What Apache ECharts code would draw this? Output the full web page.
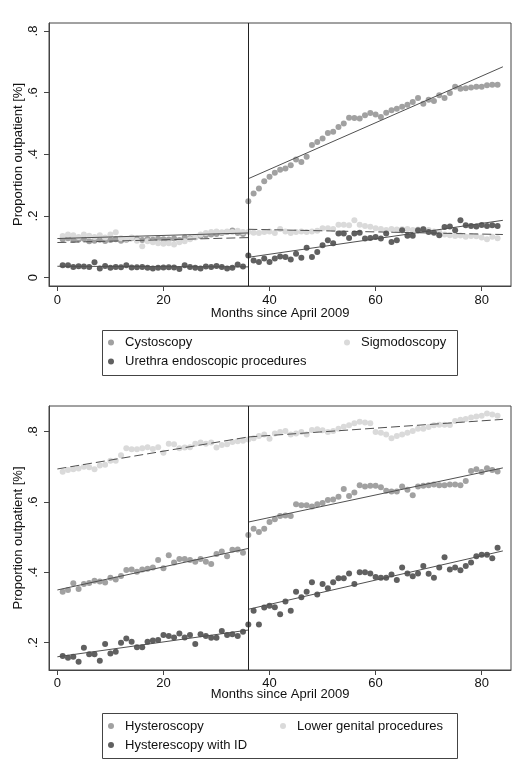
<!DOCTYPE html>
<html><head><meta charset="utf-8">
<script src="https://cdn.jsdelivr.net/npm/echarts@6/dist/echarts.min.js"></script>
<style>html,body{margin:0;padding:0;background:#fff}#c{width:514px;height:773px}</style>
</head><body><div id="c"></div><script>
const months = [1,2,3,4,5,6,7,8,9,10,11,12,13,14,15,16,17,18,19,20,21,22,23,24,25,26,27,28,29,30,31,32,33,34,35,36,37,38,39,40,41,42,43,44,45,46,47,48,49,50,51,52,53,54,55,56,57,58,59,60,61,62,63,64,65,66,67,68,69,70,71,72,73,74,75,76,77,78,79,80,81,82,83];
const xTicks = [0,20,40,60,80];
const yTicksTop = [0,0.2,0.4,0.6,0.8];
const yTicksBottom = [0.2,0.4,0.6,0.8];
const breakMonth = 36;
const xTitle = 'Months since April 2009';
const yTitle = 'Proportion outpatient [%]';

// Panel 1
const cystoscopy = [0.125,0.128,0.122,0.124,0.126,0.118,0.12,0.123,0.119,0.122,0.125,0.12,0.123,0.128,0.126,0.122,0.125,0.123,0.126,0.125,0.124,0.127,0.122,0.13,0.128,0.132,0.135,0.138,0.14,0.142,0.145,0.148,0.153,0.145,0.142,
0.248,0.273,0.289,0.313,0.327,0.340,0.350,0.354,0.365,0.383,0.375,0.392,0.430,0.440,0.451,0.469,0.473,0.489,0.500,0.519,0.518,0.516,0.527,0.534,0.529,0.521,0.535,0.543,0.548,0.554,0.561,0.570,0.583,0.564,0.577,0.573,0.592,0.583,0.599,0.619,0.613,0.614,0.617,0.619,0.619,0.624,0.626,0.626];
const sigmodoscopy = [0.135,0.14,0.138,0.132,0.14,0.136,0.132,0.138,0.13,0.14,0.147,0.128,0.125,0.13,0.12,0.102,0.118,0.115,0.112,0.11,0.112,0.108,0.115,0.118,0.125,0.13,0.14,0.145,0.148,0.15,0.147,0.15,0.148,0.152,0.148,
0.148,0.146,0.145,0.148,0.15,0.145,0.158,0.15,0.145,0.148,0.15,0.148,0.15,0.152,0.16,0.16,0.158,0.172,0.172,0.17,0.186,0.172,0.168,0.165,0.16,0.158,0.155,0.158,0.156,0.157,0.158,0.155,0.156,0.158,0.155,0.15,0.148,0.14,0.138,0.135,0.137,0.133,0.135,0.134,0.13,0.125,0.133,0.128];
const urethra = [0.04,0.04,0.035,0.037,0.036,0.035,0.05,0.03,0.038,0.032,0.035,0.034,0.04,0.033,0.034,0.035,0.032,0.03,0.032,0.033,0.034,0.033,0.028,0.04,0.035,0.032,0.03,0.036,0.035,0.038,0.035,0.03,0.032,0.043,0.036,
0.072,0.056,0.051,0.062,0.051,0.062,0.069,0.067,0.059,0.078,0.065,0.097,0.067,0.083,0.105,0.121,0.112,0.143,0.143,0.129,0.143,0.146,0.127,0.129,0.132,0.127,0.143,0.116,0.121,0.154,0.136,0.136,0.154,0.157,0.148,0.146,0.138,0.164,0.166,0.154,0.186,0.170,0.168,0.166,0.171,0.168,0.170,0.168];

// Panel 2
const hysteroscopy = [0.345,0.350,0.369,0.353,0.367,0.370,0.376,0.374,0.371,0.385,0.380,0.390,0.407,0.408,0.402,0.408,0.410,0.414,0.435,0.412,0.449,0.428,0.438,0.438,0.435,0.430,0.438,0.430,0.424,0.452,0.459,0.446,0.464,0.465,0.456,
0.506,0.524,0.515,0.524,0.543,0.551,0.560,0.562,0.560,0.594,0.591,0.591,0.587,0.594,0.597,0.606,0.607,0.615,0.637,0.617,0.627,0.648,0.644,0.646,0.646,0.642,0.632,0.630,0.630,0.644,0.635,0.619,0.644,0.646,0.648,0.650,0.648,0.648,0.650,0.650,0.648,0.660,0.688,0.693,0.685,0.696,0.691,0.687];
const lowerGenital = [0.686,0.691,0.693,0.695,0.70,0.699,0.693,0.704,0.706,0.717,0.717,0.733,0.753,0.750,0.750,0.753,0.756,0.751,0.756,0.740,0.766,0.764,0.753,0.755,0.756,0.766,0.769,0.766,0.769,0.755,0.762,0.764,0.771,0.773,0.774,
0.778,0.781,0.788,0.792,0.780,0.795,0.799,0.802,0.792,0.795,0.799,0.792,0.805,0.807,0.804,0.799,0.802,0.808,0.814,0.818,0.824,0.828,0.826,0.824,0.799,0.797,0.792,0.781,0.788,0.792,0.797,0.802,0.808,0.808,0.813,0.818,0.820,0.820,0.819,0.830,0.834,0.836,0.840,0.843,0.845,0.852,0.849,0.845];
const hysterescopyID = [0.162,0.157,0.16,0.146,0.186,0.167,0.167,0.149,0.196,0.169,0.174,0.2,0.212,0.203,0.187,0.187,0.203,0.206,0.208,0.222,0.219,0.215,0.226,0.215,0.222,0.196,0.224,0.219,0.214,0.214,0.233,0.222,0.224,0.219,0.231,
0.252,0.291,0.252,0.30,0.305,0.301,0.281,0.317,0.291,0.345,0.329,0.345,0.372,0.337,0.367,0.355,0.372,0.383,0.383,0.397,0.367,0.40,0.40,0.397,0.387,0.385,0.385,0.394,0.378,0.414,0.397,0.389,0.397,0.418,0.396,0.385,0.414,0.443,0.408,0.414,0.406,0.418,0.428,0.446,0.45,0.45,0.44,0.47];

// Fitted segments (x endpoints, y endpoints)
const fitXPre = [0, 36];
const fitXPost = [36, 84];
const cystoFitPre = [0.127, 0.145], cystoFitPost = [0.321, 0.684];
const sigmoFitPre = [0.114, 0.130], sigmoFitPost = [0.157, 0.140];
const urethraFitPre = [0.037, 0.035], urethraFitPost = [0.066, 0.186];
const hysteroFitPre = [0.350, 0.468], hysteroFitPost = [0.543, 0.697];
const lowerFitPre = [0.694, 0.785], lowerFitPost = [0.785, 0.835];
const idFitPre = [0.160, 0.236], idFitPost = [0.295, 0.461];

const C_MID = '#a1a1a1', C_LIGHT = '#dadada', C_DARK = '#606060', C_FIT = '#505050';
const FONT = 'Liberation Sans, Arial, Helvetica, sans-serif';

function pts(vals){ return months.map((m,i)=>[m, vals[i]]); }
function seg(xs, ys){ return xs.map((x,i)=>[x, ys[i]]); }
function scatter(name, vals, color, g){
  return {type:'scatter', name, xAxisIndex:g, yAxisIndex:g, data:pts(vals), symbol:'circle', symbolSize:6,
    itemStyle:{color, opacity:1}, z:2, silent:true};
}
function fit(name, xs, ys, dashed, g){
  return {type:'line', name, xAxisIndex:g, yAxisIndex:g, data:seg(xs, ys), showSymbol:false, symbol:'none',
    lineStyle:{color:C_FIT, width:1, type: dashed ? [9,4] : 'solid'}, z:3, silent:true};
}
function vline(g){
  return {type:'line', name:'break'+g, xAxisIndex:g, yAxisIndex:g, data:[], z:4,
    markLine:{silent:true, symbol:['none','none'], label:{show:false}, animation:false,
      lineStyle:{color:'#222', width:1, type:'solid'}, data:[{xAxis:breakMonth}]}};
}
function fmtY(v){ return v === 0 ? '0' : String(v).replace(/^0/, ''); }
function xAxis(g, margin, gap){
  return {type:'value', gridIndex:g, min:-1.58, max:85.53, name:xTitle, nameLocation:'middle', nameGap:gap,
    nameMoveOverlap:false,
    nameTextStyle:{fontFamily:FONT, fontSize:13, color:'#111'},
    axisLine:{show:true, onZero:false, lineStyle:{color:'#444', width:1}},
    axisTick:{show:true, length:5, lineStyle:{color:'#444'}, customValues:xTicks},
    axisLabel:{fontFamily:FONT, fontSize:13, color:'#111', margin, customValues:xTicks},
    splitLine:{show:false}};
}
function yAxis(g, min, max, ticks){
  return {type:'value', gridIndex:g, min, max, name:yTitle, nameLocation:'middle', nameGap:24, nameRotate:90,
    nameMoveOverlap:false,
    nameTextStyle:{fontFamily:FONT, fontSize:13, color:'#111'},
    axisLine:{show:true, onZero:false, lineStyle:{color:'#444', width:1}},
    axisTick:{show:true, length:5, lineStyle:{color:'#444'}, customValues:ticks},
    axisLabel:{fontFamily:FONT, fontSize:13, color:'#111', margin:9, rotate:90, formatter:fmtY, customValues:ticks},
    splitLine:{show:false}};
}
function legend(left, top, names){
  return {orient:'vertical', left, top, padding:0, itemGap:6, itemWidth:18, itemHeight:6, icon:'circle',
    selectedMode:false, data:names,
    textStyle:{fontFamily:FONT, fontSize:13, color:'#111', lineHeight:13}};
}

const chart = echarts.init(document.getElementById('c'), null, {renderer:'canvas'});
chart.setOption({
  animation:false,
  backgroundColor:'#fff',
  grid:[
    {left:49, top:23, width:462, height:263, show:true, borderColor:'#444', borderWidth:1, containLabel:false, outerBoundsMode:'none'},
    {left:49, top:406, width:462, height:264, show:true, borderColor:'#444', borderWidth:1, containLabel:false, outerBoundsMode:'none'}
  ],
  xAxis:[xAxis(0, 8, 21), xAxis(1, 7, 18)],
  yAxis:[yAxis(0, -0.027, 0.826, yTicksTop), yAxis(1, 0.1224, 0.873, yTicksBottom)],
  legend:[
    legend(108, 336, ['Cystoscopy','Urethra endoscopic procedures']),
    legend(344, 336, ['Sigmodoscopy']),
    legend(108, 719.5, ['Hysteroscopy','Hysterescopy with ID']),
    legend(280, 719.5, ['Lower genital procedures'])
  ],
  graphic:[
    {type:'rect', shape:{x:102.5, y:330.5, width:355, height:45}, style:{fill:'none', stroke:'#444', lineWidth:1}, silent:true},
    {type:'rect', shape:{x:102.5, y:713.5, width:355, height:45}, style:{fill:'none', stroke:'#444', lineWidth:1}, silent:true}
  ],
  series:[
    scatter('Cystoscopy', cystoscopy, C_MID, 0),
    scatter('Sigmodoscopy', sigmodoscopy, C_LIGHT, 0),
    scatter('Urethra endoscopic procedures', urethra, C_DARK, 0),
    fit('fitCystoPre', fitXPre, cystoFitPre, false, 0),
    fit('fitCystoPost', fitXPost, cystoFitPost, false, 0),
    fit('fitSigmoPre', fitXPre, sigmoFitPre, true, 0),
    fit('fitSigmoPost', fitXPost, sigmoFitPost, true, 0),
    fit('fitUrethraPre', fitXPre, urethraFitPre, false, 0),
    fit('fitUrethraPost', fitXPost, urethraFitPost, false, 0),
    vline(0),
    scatter('Hysteroscopy', hysteroscopy, C_MID, 1),
    scatter('Lower genital procedures', lowerGenital, C_LIGHT, 1),
    scatter('Hysterescopy with ID', hysterescopyID, C_DARK, 1),
    fit('fitHysteroPre', fitXPre, hysteroFitPre, false, 1),
    fit('fitHysteroPost', fitXPost, hysteroFitPost, false, 1),
    fit('fitLowerPre', fitXPre, lowerFitPre, true, 1),
    fit('fitLowerPost', fitXPost, lowerFitPost, true, 1),
    fit('fitIDPre', fitXPre, idFitPre, false, 1),
    fit('fitIDPost', fitXPost, idFitPost, false, 1),
    vline(1)
  ]
});
</script></body></html>
